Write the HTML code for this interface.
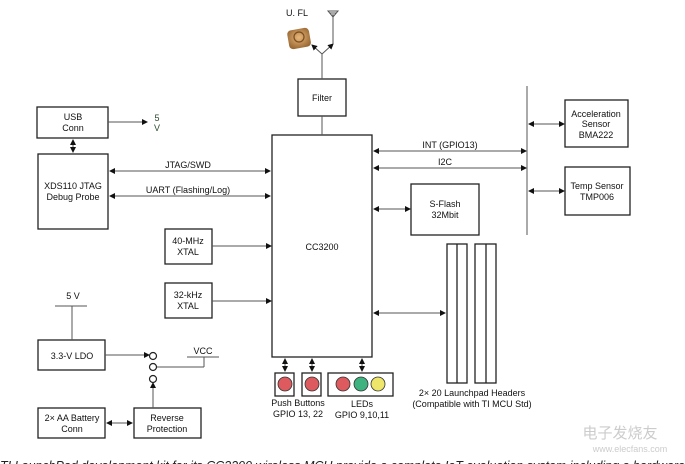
<!DOCTYPE html>
<html><head><meta charset="utf-8"><style>
html,body{margin:0;padding:0;background:#fff;}
svg{display:block;}
text{font-family:"Liberation Sans",sans-serif;font-size:9px;fill:#111;text-anchor:middle;}
</style></head><body>
<svg width="685" height="464" viewBox="0 0 685 464" xmlns="http://www.w3.org/2000/svg">
<defs>
<marker id="a" markerWidth="6" markerHeight="6" refX="5" refY="3" orient="auto-start-reverse" markerUnits="userSpaceOnUse"><path d="M0,0 L6,3 L0,6 z" fill="#111"/></marker>
<radialGradient id="g" cx="0.5" cy="0.45" r="0.6"><stop offset="0" stop-color="#e7b77a"/><stop offset="1" stop-color="#9b6a34"/></radialGradient>
</defs>
<g fill="none" stroke="#222" stroke-width="1.3">
<rect x="298" y="79" width="48" height="37"/>
<rect x="37" y="107" width="71" height="31"/>
<rect x="38" y="154" width="70" height="75"/>
<rect x="272" y="135" width="100" height="222"/>
<rect x="165" y="229" width="47" height="35"/>
<rect x="165" y="283" width="47" height="35"/>
<rect x="38" y="340" width="67" height="30"/>
<rect x="38" y="408" width="67" height="30"/>
<rect x="134" y="408" width="67" height="30"/>
<rect x="565" y="100" width="63" height="47"/>
<rect x="565" y="167" width="65" height="48"/>
<rect x="411" y="184" width="68" height="51"/>
<rect x="275" y="373" width="19" height="23"/>
<rect x="302" y="373" width="19" height="23"/>
<rect x="328" y="373" width="65" height="23"/>
<rect x="447" y="244" width="20" height="139"/>
<line x1="457" y1="244" x2="457" y2="383"/>
<rect x="475" y="244" width="21" height="139"/>
<line x1="486" y1="244" x2="486" y2="383"/>
</g>
<g stroke="#555" stroke-width="1" fill="none">
<line x1="322" y1="79" x2="322" y2="54"/>
<line x1="322" y1="54" x2="312" y2="45" marker-end="url(#a)"/>
<line x1="322" y1="54" x2="333" y2="44" marker-end="url(#a)"/>
<line x1="333" y1="44" x2="333" y2="14"/>
<path d="M328,11 L338,11 L333,17 z M330,13 L336,13"/>
<line x1="322" y1="116" x2="322" y2="135"/>
<line x1="108" y1="122" x2="147" y2="122" marker-end="url(#a)"/>
<line x1="73" y1="140" x2="73" y2="152" marker-start="url(#a)" marker-end="url(#a)"/>
<line x1="110" y1="171" x2="270" y2="171" marker-start="url(#a)" marker-end="url(#a)"/>
<line x1="110" y1="196" x2="270" y2="196" marker-start="url(#a)" marker-end="url(#a)"/>
<line x1="212" y1="246" x2="271" y2="246" marker-end="url(#a)"/>
<line x1="212" y1="301" x2="271" y2="301" marker-end="url(#a)"/>
<line x1="374" y1="151" x2="526" y2="151" marker-start="url(#a)" marker-end="url(#a)"/>
<line x1="374" y1="168" x2="526" y2="168" marker-start="url(#a)" marker-end="url(#a)"/>
<line x1="374" y1="209" x2="410" y2="209" marker-start="url(#a)" marker-end="url(#a)"/>
<line x1="527" y1="86" x2="527" y2="235"/>
<line x1="529" y1="124" x2="564" y2="124" marker-start="url(#a)" marker-end="url(#a)"/>
<line x1="529" y1="191" x2="564" y2="191" marker-start="url(#a)" marker-end="url(#a)"/>
<line x1="374" y1="313" x2="445" y2="313" marker-start="url(#a)" marker-end="url(#a)"/>
<line x1="285" y1="359" x2="285" y2="371" marker-start="url(#a)" marker-end="url(#a)"/>
<line x1="312" y1="359" x2="312" y2="371" marker-start="url(#a)" marker-end="url(#a)"/>
<line x1="362" y1="359" x2="362" y2="371" marker-start="url(#a)" marker-end="url(#a)"/>
<line x1="55" y1="306" x2="87" y2="306"/>
<line x1="72" y1="306" x2="72" y2="340"/>
<line x1="105" y1="355" x2="149" y2="355" marker-end="url(#a)"/>
<line x1="187" y1="357" x2="219" y2="357"/>
<line x1="204" y1="357" x2="204" y2="367"/>
<line x1="157" y1="367" x2="204" y2="367"/>
<line x1="153" y1="408" x2="153" y2="383" marker-end="url(#a)"/>
<line x1="107" y1="423" x2="132" y2="423" marker-start="url(#a)" marker-end="url(#a)"/>
</g>
<g fill="#fff" stroke="#222" stroke-width="1.2">
<circle cx="153" cy="356" r="3.5"/><circle cx="153" cy="367" r="3.5"/><circle cx="153" cy="379" r="3.5"/>
</g>
<g stroke="#333" stroke-width="0.8">
<circle cx="285" cy="384" r="7" fill="#dd5a5e"/>
<circle cx="312" cy="384" r="7" fill="#dd5a5e"/>
<circle cx="343" cy="384" r="7" fill="#dd5a5e"/>
<circle cx="361" cy="384" r="7" fill="#3fb37f"/>
<circle cx="378" cy="384" r="7" fill="#eee66a"/>
</g>
<rect x="288" y="29" width="22" height="19" rx="4" fill="url(#g)" transform="rotate(-10 299 38)"/>
<circle cx="299" cy="37" r="5" fill="none" stroke="#7a4d20" stroke-width="1.2"/>
<text x="297" y="16" font-size="9">U. FL</text>
<text x="322" y="101">Filter</text>
<text x="73" y="120">USB</text><text x="73" y="131">Conn</text>
<text x="157" y="121" style="fill:#2a4a2a">5</text><text x="157" y="131" style="fill:#2a4a2a">V</text>
<text x="73" y="189">XDS110 JTAG</text><text x="73" y="200">Debug Probe</text>
<text x="188" y="168">JTAG/SWD</text>
<text x="188" y="193">UART (Flashing/Log)</text>
<text x="188" y="244">40-MHz</text><text x="188" y="255">XTAL</text>
<text x="188" y="298">32-kHz</text><text x="188" y="309">XTAL</text>
<text x="322" y="250">CC3200</text>
<text x="450" y="148">INT (GPIO13)</text>
<text x="445" y="165">I2C</text>
<text x="445" y="207">S-Flash</text><text x="445" y="218">32Mbit</text>
<text x="596" y="117">Acceleration</text><text x="596" y="127">Sensor</text><text x="596" y="138">BMA222</text>
<text x="597" y="189">Temp Sensor</text><text x="597" y="200">TMP006</text>
<text x="73" y="299">5 V</text>
<text x="72" y="359">3.3-V LDO</text>
<text x="203" y="354">VCC</text>
<text x="72" y="421">2× AA Battery</text><text x="72" y="432">Conn</text>
<text x="167" y="421">Reverse</text><text x="167" y="432">Protection</text>
<text x="298" y="406">Push Buttons</text><text x="298" y="417">GPIO 13, 22</text>
<text x="362" y="407">LEDs</text><text x="362" y="418">GPIO 9,10,11</text>
<text x="472" y="396">2× 20 Launchpad Headers</text><text x="472" y="407">(Compatible with TI MCU Std)</text>
<text x="620" y="438" style="fill:#ccc;font-size:15px" font-family="Noto Sans CJK SC">电子发烧友</text>
<text x="630" y="452" style="fill:#ccc;font-size:9px">www.elecfans.com</text>
<text x="0" y="470" style="text-anchor:start;font-size:12.5px;font-style:italic;fill:#222" textLength="685" lengthAdjust="spacingAndGlyphs">TI LaunchPad development kit for its CC3200 wireless MCU provide a complete IoT evaluation system including a hardware</text>
</svg>
</body></html>
